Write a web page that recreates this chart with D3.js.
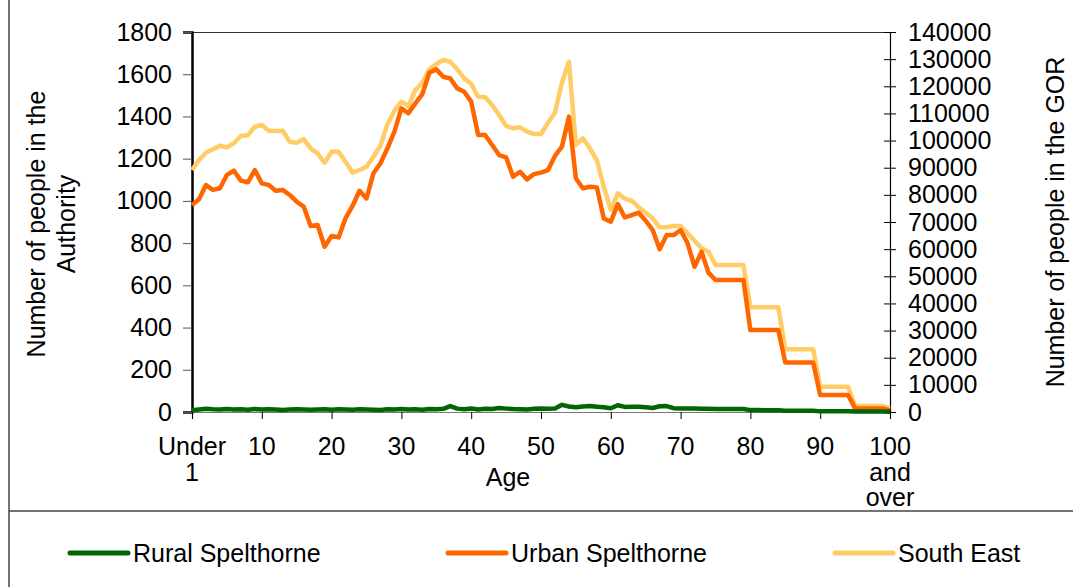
<!DOCTYPE html>
<html><head><meta charset="utf-8">
<script src="https://cdn.jsdelivr.net/npm/d3@7"></script>
<style>
html,body{margin:0;padding:0;background:#fff;}
svg{display:block;}
text{font-family:"Liberation Sans",Arial,sans-serif;fill:#000;}
</style></head>
<body>
<svg id="chart" width="1073" height="587"></svg>
<script>
// ---- data ----
const ages = d3.range(0, 101); // 0 = "Under 1", 100 = "100 and over"
const xTickAges = [0,10,20,30,40,50,60,70,80,90,100];
const xTickLabels = [["Under","1"],["10"],["20"],["30"],["40"],["50"],["60"],["70"],["80"],["90"],["100","and","over"]];
const leftTicks = [0,200,400,600,800,1000,1200,1400,1600,1800];
const rightTicks = [0,10000,20000,30000,40000,50000,60000,70000,80000,90000,100000,110000,120000,130000,140000];

const rural = [8,12,15,13,12,14,12,13,11,14,12,13,12,9,12,13,12,11,12,13,
  11,13,12,11,13,12,11,10,13,12,14,12,13,11,14,13,15,28,16,13,
  17,12,15,14,19,16,14,13,12,15,16,15,17,34,26,22,26,28,25,22,
  18,32,24,25,25,23,19,27,28,18,17,16,16,15,15,14,14,14,14,14,
  9,9,8,8,8,6,6,6,6,6,3,3,3,3,3,2,2,2,2,2,1];
const urban = [980,1008,1075,1052,1060,1123,1143,1096,1088,1146,
  1083,1075,1048,1052,1028,996,973,881,886,783,
  834,827,918,976,1048,1012,1131,1178,1249,1328,
  1438,1415,1462,1506,1607,1623,1588,1580,1533,1517,
  1470,1312,1312,1265,1217,1206,1115,1138,1102,1127,
  1134,1146,1213,1257,1399,1106,1060,1067,1064,917,
  901,985,922,933,944,906,862,771,838,838,
  862,799,688,759,660,625,625,625,625,625,
  388,388,388,388,388,234,234,234,234,234,
  80,80,80,80,80,17,17,17,17,17,8];
const southEast = [89150,92840,95530,96780,98100,97500,99000,101680,101930,105100,
  105730,103630,103520,103630,99580,99210,100570,97150,95300,91840,
  95900,95900,92210,88160,89150,90380,94060,98200,106000,111000,
  114320,112730,118630,121320,126250,128200,129680,129050,126250,122940,
  120840,116160,115940,113100,109420,105370,104520,104890,103260,102420,
  102420,106580,110260,121320,129050,98370,100830,97150,92840,83000,
  74500,80570,78600,77840,75410,73420,71360,68040,68040,68520,
  68520,65830,63110,60300,59060,54150,54150,54150,54150,54150,
  38570,38570,38570,38570,38570,23100,23100,23100,23100,23100,
  9320,9320,9320,9320,9320,2210,2210,2210,2210,2210,1360];

const seriesNames = ["Rural Spelthorne","Urban Spelthorne","South East"];
const seriesColors = ["#006600","#FF6600","#FFCC66"];

// ---- layout ----
const svg = d3.select("#chart");
const plot = {left:192, right:890, top:32, bottom:412};
const FS = 25;

const x = d3.scaleLinear().domain([0,100]).range([plot.left, plot.right]);
const yL = d3.scaleLinear().domain([0,1800]).range([plot.bottom, plot.top]);
const yR = d3.scaleLinear().domain([0,140000]).range([plot.bottom, plot.top]);

// outer frame
svg.append("line").attr("x1",9).attr("x2",9).attr("y1",0).attr("y2",587).attr("stroke","#444").attr("stroke-width",1.5);
svg.append("line").attr("x1",9).attr("x2",1073).attr("y1",511).attr("y2",511).attr("stroke","#444").attr("stroke-width",1.5);

// plot top border
svg.append("line").attr("x1",plot.left).attr("x2",plot.right).attr("y1",plot.top+0.5).attr("y2",plot.top+0.5).attr("stroke","#333").attr("stroke-width",1);

// left axis
const gL = svg.append("g").attr("transform",`translate(${plot.left},0)`)
  .call(d3.axisLeft(yL).tickValues(leftTicks).tickSize(9).tickPadding(11).tickFormat(d3.format("d")));
gL.select(".domain").attr("stroke","#000").attr("stroke-width",2.5);
gL.selectAll(".tick line").attr("stroke","#555");
gL.selectAll(".tick text").attr("font-size",FS).attr("font-family","Liberation Sans, Arial, sans-serif");

// right axis (ticks cross)
const gR = svg.append("g").attr("transform",`translate(${plot.right},0)`)
  .call(d3.axisRight(yR).tickValues(rightTicks).tickSize(6).tickPadding(12).tickFormat(d3.format("d")));
gR.select(".domain").attr("stroke","#000").attr("stroke-width",1.2);
gR.selectAll(".tick line").attr("x1",-6).attr("stroke","#000");
gR.selectAll(".tick text").attr("font-size",FS).attr("font-family","Liberation Sans, Arial, sans-serif");

// bottom axis
const gB = svg.append("g").attr("transform",`translate(0,${plot.bottom})`)
  .call(d3.axisBottom(x).tickValues(xTickAges).tickSize(7).tickFormat(""));
gB.select(".domain").attr("stroke","#777").attr("stroke-width",1.2);
gB.selectAll(".tick line").attr("stroke","#000");
xTickAges.forEach((a,i)=>{
  const t = svg.append("text").attr("x",x(a)).attr("y",455).attr("text-anchor","middle").attr("font-size",FS);
  xTickLabels[i].forEach((s,j)=>{
    t.append("tspan").attr("x",x(a)).attr("dy", j===0?0:25.5).text(s);
  });
});

// axis titles
svg.append("text").attr("x",508).attr("y",486).attr("text-anchor","middle").attr("font-size",FS).text("Age");
svg.append("text").attr("transform","translate(45,224) rotate(-90)").attr("text-anchor","middle").attr("font-size",FS).text("Number of people in the");
svg.append("text").attr("transform","translate(75,224) rotate(-90)").attr("text-anchor","middle").attr("font-size",FS).text("Authority");
svg.append("text").attr("transform","translate(1064,222) rotate(-90)").attr("text-anchor","middle").attr("font-size",FS).text("Number of people in the GOR");

// lines
const lineL = d3.line().x((d,i)=>x(ages[i])).y(d=>yL(d));
const lineR = d3.line().x((d,i)=>x(ages[i])).y(d=>yR(d));
svg.append("path").datum(southEast).attr("d",lineR).attr("fill","none").attr("stroke",seriesColors[2]).attr("stroke-width",4.5).attr("stroke-linejoin","round");
svg.append("path").datum(urban).attr("d",lineL).attr("fill","none").attr("stroke",seriesColors[1]).attr("stroke-width",4.5).attr("stroke-linejoin","round");
svg.append("path").datum(rural).attr("d",lineL).attr("fill","none").attr("stroke",seriesColors[0]).attr("stroke-width",4.5).attr("stroke-linejoin","round");

// legend
const legX = [70, 448, 835];
seriesNames.forEach((n,i)=>{
  svg.append("line").attr("x1",legX[i]).attr("x2",legX[i]+58).attr("y1",553).attr("y2",553)
    .attr("stroke",seriesColors[i]).attr("stroke-width",5).attr("stroke-linecap","round");
  svg.append("text").attr("x",legX[i]+63).attr("y",562).attr("font-size",FS).text(n);
});
</script>
</body></html>
